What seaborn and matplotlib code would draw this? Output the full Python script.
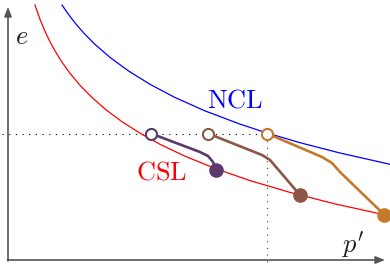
import matplotlib
matplotlib.use("Agg")
import matplotlib.pyplot as plt
import seaborn as sns
import pandas as pd

# Critical state line (CSL) and normal consolidation line (NCL)
csl_p = [0.27, 0.32, 0.37, 0.42, 0.47, 0.54, 0.62, 0.72, 0.84, 0.98, 1.14, 1.32, 1.52, 1.77, 2.07, 2.42, 2.82, 3.27, 3.82]
csl_e = [2.55, 2.407, 2.286, 2.182, 2.091, 1.978, 1.867, 1.747, 1.625, 1.502, 1.383, 1.268, 1.157, 1.038, 0.916, 0.794, 0.676, 0.561, 0.44]
ncl_p = [0.54, 0.60, 0.67, 0.76, 0.87, 1.02, 1.20, 1.42, 1.67, 1.97, 2.32, 2.59, 2.92, 3.32, 3.82]
ncl_e = [2.55, 2.463, 2.371, 2.267, 2.156, 2.026, 1.894, 1.757, 1.625, 1.491, 1.359, 1.27, 1.173, 1.07, 0.957]

# Stress paths (start: open circle, end: filled circle)
path1_p = [1.43, 1.92, 2.00, 2.05, 2.08]
path1_e = [1.265, 1.08, 1.04, 0.98, 0.905]
path2_p = [2.00, 2.54, 2.62, 2.68, 2.92]
path2_e = [1.265, 1.05, 1.00, 0.93, 0.65]
path3_p = [2.59, 3.14, 3.24, 3.32, 3.76]
path3_e = [1.265, 1.03, 0.97, 0.88, 0.455]
path_colors = ["#5b3a6b", "#8b5744", "#c57a2b"]

e0 = 1.265
p0 = 2.59

plt.rcParams["mathtext.fontset"] = "cm"

fig = plt.figure(figsize=(3.9, 2.67), dpi=100)
ax = fig.add_axes([0, 0, 1, 1])
ax.set_xlim(-0.08, 3.82)
ax.set_ylim(-0.07, 2.60)
ax.axis("off")

# reference dotted lines
ax.plot([-0.06, p0], [e0, e0], color="black", lw=0.8, dashes=(1, 5), zorder=1)
ax.plot([p0, p0], [e0, -0.07], color="#444444", lw=0.8, dashes=(1, 5), zorder=1)

# axes with arrows
arrow = dict(arrowstyle="-|>,head_length=0.55,head_width=0.22", color="#555555",
             lw=1.2, shrinkA=0, shrinkB=0, mutation_scale=10)
ax.annotate("", xy=(3.77, 0), xytext=(-0.005, 0), arrowprops=arrow, zorder=2)
ax.annotate("", xy=(0, 2.53), xytext=(0, -0.01), arrowprops=arrow, zorder=2)

csl = pd.DataFrame({"p": csl_p, "e": csl_e})
ncl = pd.DataFrame({"p": ncl_p, "e": ncl_e})
sns.lineplot(data=csl, x="p", y="e", sort=False, color="#ff0000", lw=0.9, ax=ax, zorder=3)
sns.lineplot(data=ncl, x="p", y="e", sort=False, color="#0000ff", lw=0.9, ax=ax, zorder=3)

for ps, es, c in zip([path1_p, path2_p, path3_p], [path1_e, path2_e, path3_e], path_colors):
    df = pd.DataFrame({"p": ps, "e": es})
    sns.lineplot(data=df, x="p", y="e", sort=False, color=c, lw=1.9, ax=ax, zorder=4,
                 solid_joinstyle="round", solid_capstyle="round")
    ax.plot(ps[0], es[0], "o", ms=8, mfc="white", mec=c, mew=1.5, zorder=5)
    ax.plot(ps[-1], es[-1], "o", ms=9.5, mfc=c, mec=c, zorder=5)

ax.set_xlabel("")
ax.set_ylabel("")

ax.text(0.14, 2.23, r"$e$", fontsize=19, ha="center", va="center", color="#222222")
ax.text(3.45, 0.15, r"$p'$", fontsize=19, ha="center", va="center", color="#222222")
ax.text(2.27, 1.595, r"$\mathrm{NCL}$", fontsize=19, ha="center", va="center", color="#0000ff")
ax.text(1.54, 0.88, r"$\mathrm{CSL}$", fontsize=19, ha="center", va="center", color="#ff0000")

fig.savefig("out.png", dpi=100)
